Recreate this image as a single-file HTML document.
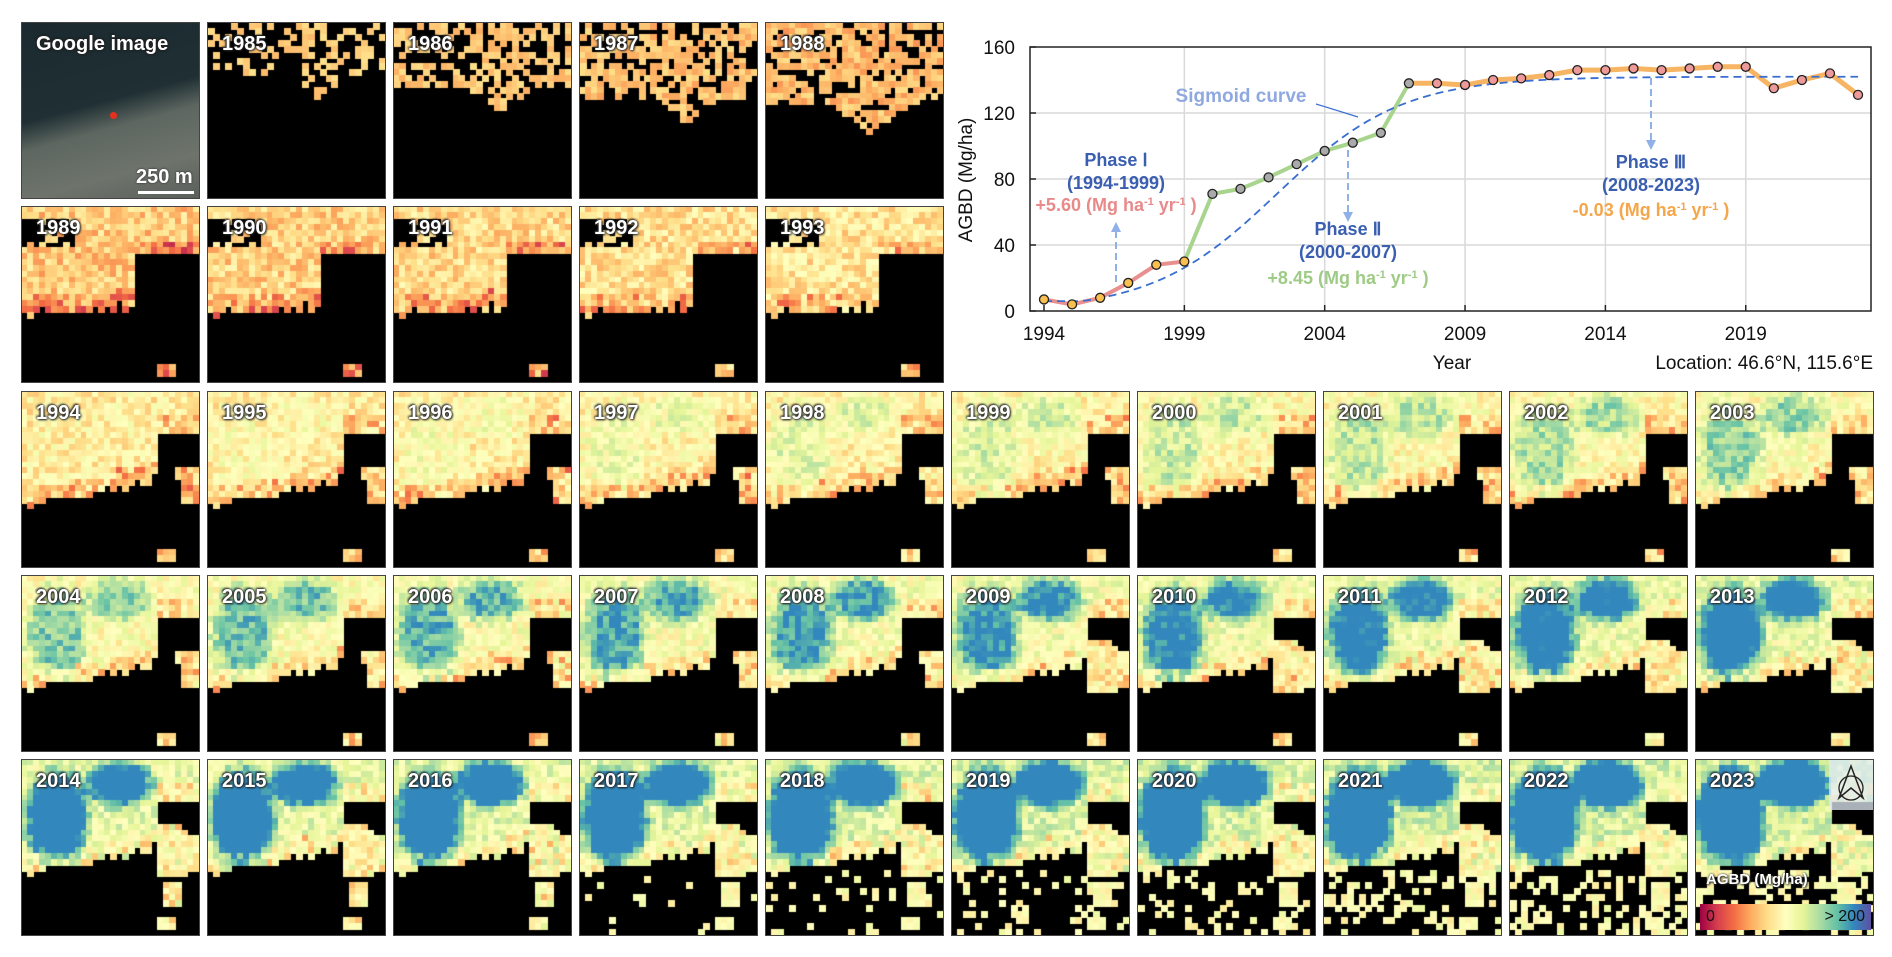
<!DOCTYPE html>
<html><head><meta charset="utf-8">
<style>
html,body{margin:0;padding:0;background:#fff;}
body{width:1892px;height:957px;position:relative;overflow:hidden;font-family:"Liberation Sans",Arial,sans-serif;}
.tile{position:absolute;width:179px;height:177px;border:1px solid #444;box-sizing:border-box;background:#000;}
.tile canvas{position:absolute;left:0;top:0;width:177px;height:175px;}
.lbl{position:absolute;left:14px;top:10px;color:#fff;font-weight:bold;font-size:20px;text-shadow:0 0 2px #222,1px 1px 2px #222,-1px -1px 2px #222;}
#chart{position:absolute;left:940px;top:0;}
</style></head><body>
<div id="tiles"></div>
<svg id="chart" width="952" height="390"></svg>
<script>
// ---- chart data ----
const years=[1994,1995,1996,1997,1998,1999,2000,2001,2002,2003,2004,2005,2006,2007,2008,2009,2010,2011,2012,2013,2014,2015,2016,2017,2018,2019,2020,2021,2022,2023];
const agbd=[7,4,8,17,28,30,71,74,81,89,97,102,108,138,138,137,140,141,143,146,146,147,146,147,148,148,135,140,144,131];
const yTicks=[0,40,80,120,160];
const xTicks=[1994,1999,2004,2009,2014,2019];
const sigmoidParams=[142,0.45,2002.3];
const mapYears=[1985,1986,1987,1988,1989,1990,1991,1992,1993,1994,1995,1996,1997,1998,1999,2000,2001,2002,2003,2004,2005,2006,2007,2008,2009,2010,2011,2012,2013,2014,2015,2016,2017,2018,2019,2020,2021,2022,2023];

const NS='http://www.w3.org/2000/svg';
const svg=document.getElementById('chart');
const OX=940;
const X=y=>1044-OX+(y-1994)*28.07;
const Y=v=>311-v*264/160;
function mk(tag,attrs,parent){const e=document.createElementNS(NS,tag);for(const k in attrs)e.setAttribute(k,attrs[k]);(parent||svg).appendChild(e);return e;}
xTicks.forEach(t=>{if(t>1994){const l=mk('line',{x1:X(t),x2:X(t),y1:Y(160),y2:Y(0),stroke:'#d9d9d9','stroke-width':1.5});

}});
yTicks.forEach(t=>{if(t>0&&t<160){const l=mk('line',{x1:1030-OX,x2:1871-OX,y1:Y(t),y2:Y(t),stroke:'#d9d9d9','stroke-width':1.5});

}});
const frame=mk('rect',{x:1030-OX,y:Y(160),width:1871-1030,height:Y(0)-Y(160),fill:'none',stroke:'#222','stroke-width':1.5});


yTicks.forEach(t=>{const tx=mk('text',{x:1015-OX,y:Y(t)+7,'text-anchor':'end','font-size':19,fill:'#111'});tx.textContent=t;


mk('line',{x1:1030-OX,x2:1036-OX,y1:Y(t),y2:Y(t),stroke:'#222','stroke-width':1.5});});
xTicks.forEach(t=>{const tx=mk('text',{x:X(t),y:340,'text-anchor':'middle','font-size':19,fill:'#111'});tx.textContent=t;


mk('line',{x1:X(t),x2:X(t),y1:Y(0),y2:Y(0)-6,stroke:'#222','stroke-width':1.5});});
let t1=mk('text',{x:1452-OX,y:369,'text-anchor':'middle','font-size':19,fill:'#111'});t1.textContent='Year';

let t2=mk('text',{x:1873-OX,y:369,'text-anchor':'end','font-size':19,fill:'#111'});t2.textContent='Location: 46.6°N, 115.6°E';

let t3=mk('text',{x:0,y:0,'text-anchor':'middle','font-size':19,fill:'#111','transform':`translate(${972-OX},180) rotate(-90)`});t3.textContent='AGBD (Mg/ha)';

function seg(i0,i1,col,w,name){let d='';for(let i=i0;i<=i1;i++)d+=(i==i0?'M':'L')+X(years[i])+','+Y(agbd[i]);
const p=mk('path',{d:d,fill:'none',stroke:col,'stroke-width':w,'stroke-linejoin':'round'});
}
seg(0,5,'#e8908f',4,'phase1-line');
seg(5,13,'#a8d48e',4,'phase2-line');
seg(13,29,'#f7b462',5,'phase3-line');
let sd='';for(let yy=1994;yy<=2023.001;yy+=0.25){const v=sigmoidParams[0]/(1+Math.exp(-sigmoidParams[1]*(yy-sigmoidParams[2])));sd+=(yy==1994?'M':'L')+X(yy)+','+Y(Math.max(v,6-(yy-1994)*0.0));}
const sp=mk('path',{d:sd,fill:'none',stroke:'#3a6fd0','stroke-width':1.8,'stroke-dasharray':'8,5'});

years.forEach((yr,i)=>{const col=i<=5?'#f9bf4f':(i<=13?'#aaaaaa':'#ef9a9a');
const c=mk('circle',{cx:X(yr),cy:Y(agbd[i]),r:4.5,fill:col,stroke:'#222','stroke-width':1.3});

});
function txt(x,y,s,col,name,size){const t=mk('text',{x:x-OX,y:y,'text-anchor':'middle','font-size':size||17,fill:col,'font-weight':'bold','font-family':'"Liberation Sans Narrow","Liberation Sans",sans-serif'});t.innerHTML=s;
return t;}
function arrow(x,y1,y2,name){const g=mk('g',{});
mk('line',{x1:x-OX,x2:x-OX,y1:y1,y2:y2+(y2<y1?8:-8),stroke:'#8fb0e8','stroke-width':2,'stroke-dasharray':'7,4'},g);
const dir=y2<y1?1:-1;mk('path',{d:`M${x-OX-5},${y2+dir*10}L${x-OX},${y2}L${x-OX+5},${y2+dir*10}Z`,fill:'#8fb0e8'},g);}
txt(1241,102,'Sigmoid curve','#8fa9e0','sigmoid-label',19);
const sl=mk('line',{x1:1316-OX,y1:104,x2:1358-OX,y2:117,stroke:'#3a6fd0','stroke-width':1.2});

const sup=s=>`<tspan font-size="11" dy="-6">${s}</tspan><tspan dy="6"> </tspan>`;
txt(1116,166,'Phase Ⅰ','#3a5fb0','phase1-title',18);
txt(1116,189,'(1994-1999)','#3a5fb0','phase1-range',18);
txt(1116,211,'+5.60 (Mg ha'+sup('-1')+'yr'+sup('-1')+')','#e88a8a','phase1-rate',18);
arrow(1116,282,222,'phase1-arrow');
txt(1348,235,'Phase Ⅱ','#3a5fb0','phase2-title',18);
txt(1348,258,'(2000-2007)','#3a5fb0','phase2-range',18);
txt(1348,284,'+8.45 (Mg ha'+sup('-1')+'yr'+sup('-1')+')','#9ecb86','phase2-rate',18);
arrow(1348,150,222,'phase2-arrow');
txt(1651,168,'Phase Ⅲ','#3a5fb0','phase3-title',18);
txt(1651,191,'(2008-2023)','#3a5fb0','phase3-range',18);
txt(1651,216,'-0.03 (Mg ha'+sup('-1')+'yr'+sup('-1')+')','#f5a64a','phase3-rate',18);
arrow(1651,78,150,'phase3-arrow');

// ---- map tiles ----
const cmapStops=['#9e0142','#d53e4f','#f46d43','#fdae61','#fee08b','#ffffbf','#e6f598','#abdda4','#66c2a5','#3288bd','#3288bd'];
function hex(h){return[parseInt(h.substr(1,2),16),parseInt(h.substr(3,2),16),parseInt(h.substr(5,2),16)];}
const stopsRGB=cmapStops.map(hex);
function cmap(v){let t=Math.max(0,Math.min(1,v/200))*(stopsRGB.length-1);const i=Math.min(stopsRGB.length-2,Math.floor(t));const f=t-i;const a=stopsRGB[i],b=stopsRGB[i+1];return`rgb(${a.map((x,k)=>Math.round(x+(b[k]-x)*f)).join(',')})`;}
function hash(a,b,c){let h=(a*374761393+b*668265263+c*2147483647)|0;h=(h^(h>>>13))*1274126177|0;h=h^(h>>>16);return ((h>>>0)%10000)/10000;}
const tilesDiv=document.getElementById('tiles');
const colX=[21,207,393,579,765,951,1137,1323,1509,1695];
const rowY=[22,206,391,575,759];
const N=30;
function drawTile(ctx,yr){
  const cs=177/N, rs=175/N;
  ctx.fillStyle='#000';ctx.fillRect(0,0,177,175);
  const early=yr<1989;
  const base=early?60:(yr<1994?72+(yr-1989)*3:88+(yr-1994)*1.3);
  const boost=early?0:Math.max(0,(yr-1993)*4.5);
  for(let j=0;j<N;j++)for(let i=0;i<N;i++){
    const u=(i+0.5)/N,v=(j+0.5)/N;let on=false,edge=false;
    if(early){
      const k=yr-1985;
      let bd=0.3+0.06*k+0.15*Math.max(0,1-Math.abs(u-0.6)/0.2);
      on=v<bd && hash(i,j,yr)>(0.6-k*0.1);
      if(u<0.3&&v<0.25&&k<2)on=on&&hash(j,i,3)>0.5;
      if(k==0&&u>0.4&&u<0.55&&v>0.15)on=false;
    }else{
      let bd=u<0.76?0.66-0.22*u+(hash(i,0,7)-0.5)*0.04:0.22;
      if(yr<1994){bd=u<0.62?0.62-0.1*u+(hash(i,0,7)-0.5)*0.06:0.28;}
      on=v<bd;edge=v>bd-0.08;
      if(yr>=1994){
        if(u>0.86&&v>0.42&&v<0.5)on=true;
        if(u>=0.9&&v>0.5&&v<0.65)on=true;
      }
      if(yr<1994&&u<0.3&&v<0.22&&v>0.08&&hash(i,j,1)>0.2)on=false;
      if(yr>=2009&&u>0.78&&v>0.35&&v<0.66&&u<0.95&&v>0.2+(u-0.78)*1.5)on=true;
      if(u>0.78&&u<0.88&&v>0.9&&v<0.98)on=true;
      if(yr>=2014&&u>0.8&&u<0.9&&v>0.7&&v<0.85)on=true;
      if(yr>=2017&&v>0.62&&hash(i,j,yr*3)<(yr-2016)*0.05)on=true;
    }
    if(!on)continue;
    const d1=Math.hypot((u-0.2)/0.22,(v-0.33)/0.33),d2=Math.hypot((u-0.55)/0.24,(v-0.14)/0.16);
    const clus=Math.max(0,1-d1)+Math.max(0,1-d2)*0.9;
    let val=base+boost*Math.min(1,clus*2.2)+(hash(i,j,yr)-0.5)*40;
    if(edge)val-=40*hash(j,i,yr+1);
    if(yr>=2017&&v>0.62)val=85+hash(i,j,5)*30;
    ctx.fillStyle=cmap(val);
    ctx.fillRect(Math.floor(i*cs),Math.floor(j*rs),Math.ceil(cs)+1,Math.ceil(rs)+1);
  }
}
(function(){const d=document.createElement('div');d.className='tile';d.style.left=colX[0]+'px';d.style.top=rowY[0]+'px';

d.style.background='linear-gradient(165deg,#1b2a30 0%,#1f2f33 45%,#5d6660 58%,#6e746c 80%,#5a605a 100%)';
d.innerHTML='<div class="lbl" style="left:14px">Google image</div><div style="position:absolute;left:88px;top:89px;width:7px;height:7px;border-radius:50%;background:#e8301c"></div><div style="position:absolute;left:114px;top:143px;color:#fff;font-weight:bold;font-size:20px;text-shadow:0 0 2px #222">250 m</div><div style="position:absolute;left:116px;top:168px;width:56px;height:3px;background:#fff"></div>';
tilesDiv.appendChild(d);})();
mapYears.forEach((yr,k)=>{const idx=k+1;
let row,col;
if(idx<5){row=0;col=idx;}else if(idx<10){row=1;col=idx-5;}else{row=2+Math.floor((idx-10)/10);col=(idx-10)%10;}
const d=document.createElement('div');d.className='tile';d.style.left=colX[col]+'px';d.style.top=rowY[row]+'px';


const c=document.createElement('canvas');c.width=177;c.height=175;d.appendChild(c);
drawTile(c.getContext('2d'),yr);
const l=document.createElement('div');l.className='lbl';l.textContent=yr;


d.appendChild(l);tilesDiv.appendChild(d);});
const last=tilesDiv.lastChild;
last.insertAdjacentHTML('beforeend','<div style="position:absolute;right:0;top:0;width:44px;height:50px;background:rgba(225,235,245,0.75)"><svg width="44" height="50"><path d="M22,6 L10,38 L22,28 L34,38 Z" fill="none" stroke="#222" stroke-width="1.5"/><circle cx="22" cy="28" r="12" fill="none" stroke="#222" stroke-width="1.3"/></svg></div>'+
'<div style="position:absolute;left:10px;top:111px;color:#fff;font-weight:bold;font-size:15px;text-shadow:0 0 2px #222,1px 1px 2px #222">AGBD (Mg/ha)</div>'+
'<div style="position:absolute;left:4px;top:144px;width:171px;height:26px;background:linear-gradient(90deg,#9e0142,#d53e4f,#f46d43,#fdae61,#fee08b,#ffffbf,#e6f598,#abdda4,#66c2a5,#3288bd,#5e4fa2);font-size:16px;color:#111"><span style="position:absolute;left:6px;top:4px">0</span><span style="position:absolute;right:6px;top:4px">&gt; 200</span></div>');
</script>
</body></html>
